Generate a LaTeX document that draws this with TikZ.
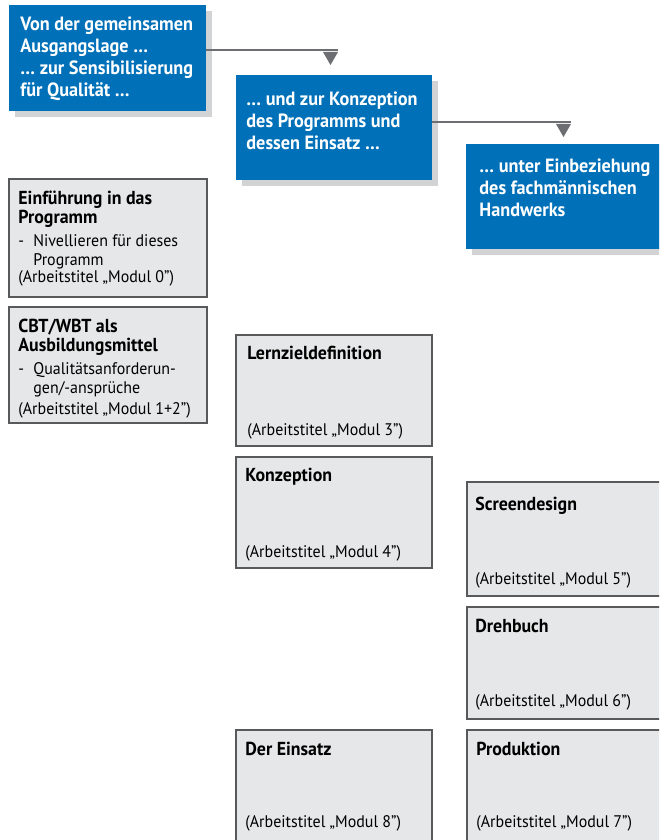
\documentclass[tikz,border=0pt]{standalone}
\usepackage{fontspec}
\setmainfont{PT Sans}[FakeStretch=0.95]
\usetikzlibrary{positioning,fit,shadows}

\definecolor{stageblue}{HTML}{0070B8}
\definecolor{modulgrey}{HTML}{E6E7E8}
\definecolor{framegrey}{HTML}{58595B}
\definecolor{shadegrey}{HTML}{D1D3D4}
\definecolor{flowgrey}{HTML}{6D6E71}

\newcommand{\arbtitel}[1]{(Arbeitstitel „Modul #1”)}

\tikzset{
    stage/.style={fill=stageblue, inner sep=0pt,
        general shadow={fill=shadegrey, shadow xshift=3pt, shadow yshift=-3pt}},
    stagetext/.style={anchor=north west, inner sep=0pt, align=left, text=white,
        font=\bfseries\fontsize{9.6}{11}\selectfont},
    modul/.style={draw=framegrey, line width=0.6pt, fill=modulgrey, inner sep=0pt},
    modultitle/.style={anchor=north west, inner sep=0pt, align=left,
        font=\bfseries\fontsize{9.4}{9.5}\selectfont},
    modulbody/.style={anchor=north west, inner sep=0pt, align=left,
        font=\fontsize{8.4}{9.3}\selectfont},
    flow/.style={draw=flowgrey, line width=1pt},
}

\begin{document}
\begin{tikzpicture}[x=0.5pt,y=-0.5pt]
    \useasboundingbox (0,0) rectangle (659,840);
    \clip (0,0) rectangle (659,840);

    % blaue Stufen
    \node[stage, fit={(9,5) (206,111)}] (start) {};
    \node[stagetext] (starttext) at (20,16)
        {Von der gemeinsamen\\ Ausgangslage …\\ … zur Sensibilisierung\\ für Qualität …};

    \node[stage, fit={(236,75) (432,180)}] (konzept) {};
    \node[stagetext] (konzepttext) at (246,91)
        {… und zur Konzeption\\ des Programms und\\ dessen Einsatz …};

    \node[stage, fit={(466,144) (680,249)}] (handwerk) {};
    \node[stagetext] (handwerktext) at (479,158)
        {… unter Einbeziehung\\ des fachmännischen\\ Handwerks};

    % Verbindungen
    \coordinate (knick1) at (338,50);
    \draw[flow] (start.east |- knick1) -- (knick1);
    \fill[flowgrey] (323,52) -- (338,52) -- (330.5,65) -- cycle;

    \coordinate (knick2) at (571,122);
    \draw[flow] (konzept.east |- knick2) -- (knick2);
    \fill[flowgrey] (556,124) -- (571,124) -- (563.5,137) -- cycle;

    % linke Spalte
    \node[modul, fit={(9,179) (207,297)}] (modul0) {};
    \node[modultitle] (modul0title) at (18,191) {Einführung in das\\ Programm};
    \node[modulbody, below=3pt of modul0title.south west, anchor=north west] (modul0body)
        {\makebox[7.5pt][l]{-}Nivellieren für dieses\\ \hspace*{7.5pt}Programm};
    \node[modulbody] (modul0arb) at (18,270) {\arbtitel{0}};

    \node[modul, fit={(9,307) (207,423)}] (modul12) {};
    \node[modultitle] (modul12title) at (18,319) {CBT/WBT als\\ Ausbildungsmittel};
    \node[modulbody, below=3pt of modul12title.south west, anchor=north west] (modul12body)
        {\makebox[7.5pt][l]{-}Qualitätsanforderun-\\ \hspace*{7.5pt}gen/-ansprüche};
    \node[modulbody] (modul12arb) at (18,402) {\arbtitel{1+2}};

    % mittlere Spalte
    \node[modul, fit={(236,335) (432,446)}] (modul3) {};
    \node[modultitle] (modul3title) at (247,346) {Lernzieldefinition};
    \node[modulbody] (modul3arb) at (247,423) {\arbtitel{3}};

    \node[modul, fit={(236,457) (432,568)}] (modul4) {};
    \node[modultitle] (modul4title) at (245,468) {Konzeption};
    \node[modulbody] (modul4arb) at (245,545) {\arbtitel{4}};

    \node[modul, fit={(236,730) (432,860)}] (modul8) {};
    \node[modultitle] (modul8title) at (245,742) {Der Einsatz};
    \node[modulbody] (modul8arb) at (245,815) {\arbtitel{8}};

    % rechte Spalte
    \node[modul, fit={(467,482) (680,596)}] (modul5) {};
    \node[modultitle] (modul5title) at (475,497) {Screendesign};
    \node[modulbody] (modul5arb) at (475,572) {\arbtitel{5}};

    \node[modul, fit={(467,607) (680,719)}] (modul6) {};
    \node[modultitle] (modul6title) at (475,619) {Drehbuch};
    \node[modulbody] (modul6arb) at (475,694) {\arbtitel{6}};

    \node[modul, fit={(467,730) (680,860)}] (modul7) {};
    \node[modultitle] (modul7title) at (476,742) {Produktion};
    \node[modulbody] (modul7arb) at (476,815) {\arbtitel{7}};
\end{tikzpicture}
\end{document}
